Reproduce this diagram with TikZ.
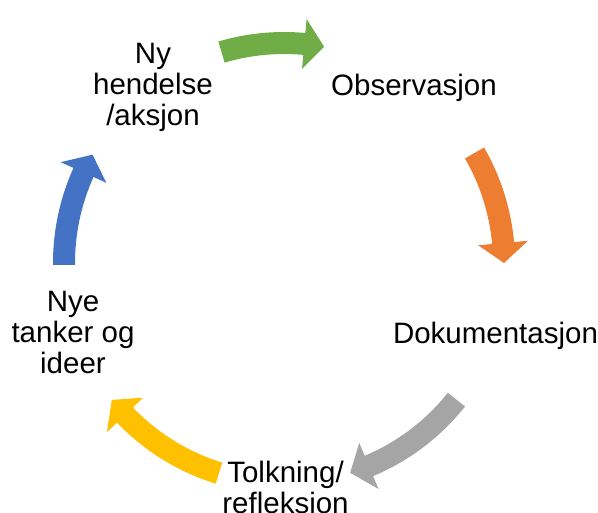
\documentclass[tikz,border=0pt]{standalone}
\usepackage{fontspec}
\setmainfont{Liberation Sans}
\definecolor{cgreen}{HTML}{70AD47}
\definecolor{corange}{HTML}{ED7D31}
\definecolor{cgray}{HTML}{A5A5A5}
\definecolor{cyellow}{HTML}{FFC000}
\definecolor{cblue}{HTML}{4472C4}

% block arrow along the circle: colour, start angle, end angle (clockwise)
\newcommand{\cyclearrow}[3]{%
  \pgfmathsetmacro{\ja}{#3+5.2}
  \fill[#1] (#2:231) arc[start angle=#2, end angle=\ja, radius=231]
    -- (\ja:245) -- (#3:220) -- (\ja:195) -- (\ja:209)
    arc[start angle=\ja, end angle=#2, radius=209] -- cycle;
}

\begin{document}
\begin{tikzpicture}[x=1pt,y=1pt,
  every node/.style={font=\fontsize{29.5}{31}\selectfont,align=center,inner sep=0pt}]
\useasboundingbox (0,0) rectangle (598,513);
\coordinate (C) at (284,250);

\node (ny) at (153,426) {Ny\\hendelse\\/aksjon};
\node (obs) at (414,425.6) {Observasjon};
\node (dok) at (495.5,177.6) {Dokumentasjon};
\node (tolk) at (285.5,23) {Tolkning/\\refleksjon};
\node (nye) at (73,180.5) {Nye\\tanker og\\ideer};

\begin{scope}[shift={(C)}]
\cyclearrow{cgreen}{106.5}{79.5}
\cyclearrow{corange}{30}{0}
\cyclearrow{cgray}{-38.4}{-72.5}
\cyclearrow{cyellow}{-107.2}{-141.5}
\cyclearrow{cblue}{180.5}{150.5}
\end{scope}
\end{tikzpicture}
\end{document}
